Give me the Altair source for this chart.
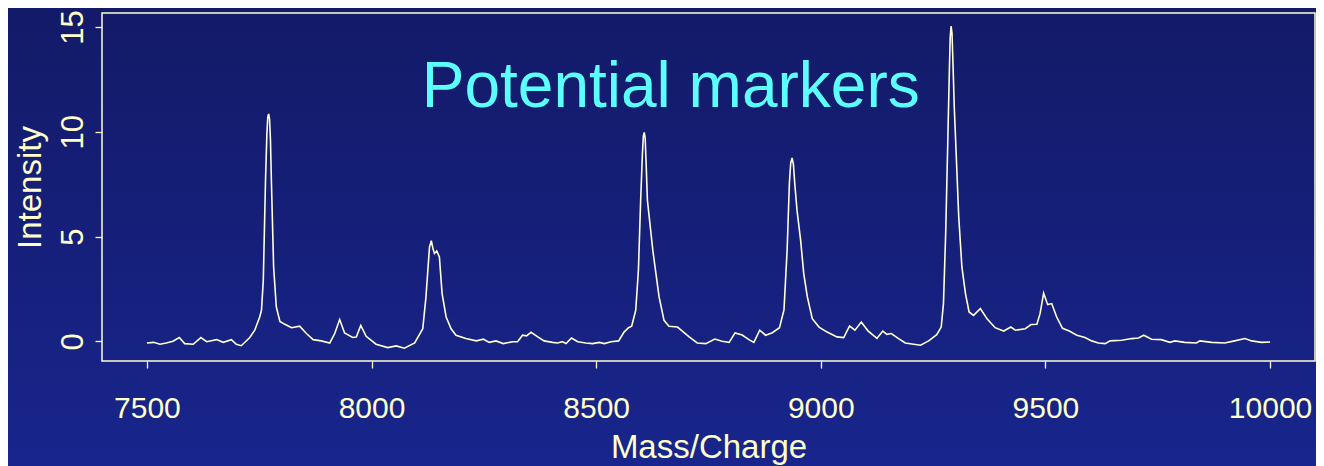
import altair as alt
import pandas as pd

# ---- data ----
mass = [7500, 7515, 7529, 7543, 7558, 7572, 7584, 7603, 7620, 7633, 7655, 7670, 7688, 7699, 7710,
        7729, 7740, 7751, 7755, 7759, 7764, 7767, 7769, 7771, 7773, 7775, 7777, 7782, 7788, 7796,
        7807, 7822, 7840, 7855, 7870, 7888, 7907, 7918, 7929, 7940, 7958, 7966, 7976, 7988, 8010,
        8036, 8055, 8073, 8096, 8114, 8121, 8126, 8129, 8133, 8137, 8140, 8145, 8151, 8157, 8166,
        8177, 8188, 8210, 8233, 8249, 8262, 8277, 8293, 8314, 8325, 8336, 8345, 8355, 8370, 8384,
        8403, 8414, 8425, 8433, 8445, 8459, 8477, 8492, 8507, 8518, 8533, 8550, 8562, 8572, 8579,
        8588, 8594, 8599, 8603, 8605, 8607, 8609, 8611, 8614, 8618, 8626, 8633, 8640, 8651, 8662,
        8681, 8707, 8725, 8744, 8764, 8780, 8796, 8809, 8825, 8840, 8851, 8864, 8877, 8892, 8908,
        8918, 8925, 8930, 8933, 8936, 8939, 8942, 8947, 8955, 8962, 8970, 8981, 8996, 9014, 9036,
        9051, 9064, 9076, 9090, 9105, 9125, 9138, 9147, 9157, 9173, 9188, 9207, 9222, 9240, 9258,
        9268, 9273, 9278, 9283, 9286, 9288, 9290, 9292, 9294, 9297, 9301, 9307, 9314, 9322, 9330,
        9340, 9355, 9370, 9388, 9407, 9423, 9433, 9455, 9468, 9481, 9488, 9496, 9505, 9514, 9525,
        9538, 9553, 9570, 9588, 9603, 9618, 9633, 9644, 9670, 9692, 9707, 9719, 9736, 9758, 9777,
        9788, 9810, 9836, 9844, 9870, 9899, 9921, 9944, 9959, 9981, 10000]
intensity = [-0.08, -0.05, -0.14, -0.08, 0.00, 0.18, -0.11, -0.14, 0.18, -0.02, 0.08, -0.05, 0.08, -0.14, -0.21,
             0.18, 0.53, 1.16, 1.48, 2.90, 7.70, 9.90, 10.70, 10.85, 10.60, 9.60, 7.70, 3.55, 1.64, 0.95,
             0.81, 0.65, 0.72, 0.37, 0.08, 0.02, -0.08, 0.37, 1.04, 0.40, 0.18, 0.20, 0.76, 0.24, -0.14,
             -0.30, -0.22, -0.33, -0.08, 0.60, 2.10, 3.60, 4.50, 4.80, 4.40, 4.19, 4.31, 4.03, 2.28, 1.16,
             0.60, 0.29, 0.13, 0.02, 0.10, -0.05, 0.02, -0.11, -0.02, -0.02, 0.29, 0.26, 0.43, 0.21, 0.02,
             -0.05, -0.08, -0.02, -0.11, 0.16, -0.02, -0.08, -0.11, -0.05, -0.11, -0.02, 0.02, 0.44, 0.65, 0.72,
             1.48, 3.40, 6.74, 9.00, 9.80, 9.97, 9.70, 8.60, 6.74, 5.94, 4.35, 3.23, 2.12, 1.00, 0.72,
             0.68, 0.21, -0.08, -0.11, 0.11, 0.00, -0.05, 0.40, 0.30, 0.08, -0.05, 0.53, 0.29, 0.41, 0.65,
             1.50, 4.35, 7.53, 8.50, 8.75, 8.45, 7.53, 6.26, 4.83, 3.23, 2.12, 1.08, 0.68, 0.44, 0.21,
             0.18, 0.73, 0.53, 0.92, 0.50, 0.14, 0.49, 0.33, 0.37, 0.13, -0.08, -0.14, -0.19, 0.02, 0.32,
             0.68, 1.80, 5.20, 9.90, 12.80, 14.50, 15.05, 14.70, 13.40, 11.20, 9.10, 5.94, 3.55, 2.28, 1.40,
             1.24, 1.56, 1.08, 0.65, 0.49, 0.68, 0.53, 0.60, 0.80, 0.81, 1.32, 2.30, 1.75, 1.80, 1.16,
             0.62, 0.49, 0.29, 0.18, 0.02, -0.08, -0.11, 0.02, 0.05, 0.13, 0.16, 0.29, 0.10, 0.08, -0.05,
             0.02, -0.05, -0.08, 0.02, -0.05, -0.08, 0.02, 0.13, 0.02, -0.05, -0.03]
x_ticks = [7500, 8000, 8500, 9000, 9500, 10000]
y_ticks = [0, 5, 10, 15]
title_text = ["Potential markers"]
title_mass = [8666]
title_intensity = [11.17]

W, H = 1213, 348
CREAM = "#FFFFCC"
FONT = "Liberation Sans"

df = pd.DataFrame({"mass": mass, "intensity": intensity})
tdf = pd.DataFrame({"label": title_text, "mass": title_mass, "intensity": title_intensity})

xscale = alt.Scale(domain=[7400, 10100], nice=False, zero=False)
yscale = alt.Scale(domain=[-0.94, 15.67], nice=False, zero=False)

grad = alt.LinearGradient(
    gradient="linear",
    stops=[alt.GradientStop(color="#131a68", offset=0),
           alt.GradientStop(color="#18258c", offset=1)],
    x1=0, x2=0, y1=0, y2=1,
)

bg = alt.Chart(pd.DataFrame({"k": [0]})).mark_rect(clip=False, color=grad).encode(
    x=alt.value(-94), x2=alt.value(W + 1), y=alt.value(-5), y2=alt.value(H + 105)
)

frame = alt.Chart(pd.DataFrame({"k": [0]})).mark_rect(
    filled=False, color=CREAM, strokeWidth=1.5, clip=False
).encode(x=alt.value(0), x2=alt.value(W), y=alt.value(0), y2=alt.value(H))

line = alt.Chart(df).mark_line(color="#FFFFD8", strokeWidth=1.6, clip=True).encode(
    x=alt.X("mass:Q", scale=xscale,
            axis=alt.Axis(values=x_ticks, title="Mass/Charge", grid=False, domain=False,
                          tickColor=CREAM, tickSize=7, tickWidth=1.3, labelColor=CREAM,
                          labelFont=FONT, labelFontSize=30, labelPadding=25,
                          labelFlush=False, labelOverlap=False, format="d",
                          titleColor=CREAM, titleFont=FONT, titleFontSize=33,
                          titleFontWeight="normal", titleBaseline="alphabetic",
                          titleY=96, zindex=2)),
    y=alt.Y("intensity:Q", scale=yscale,
            axis=alt.Axis(values=y_ticks, title="Intensity", grid=False, domain=False,
                          tickColor=CREAM, tickSize=7, tickWidth=1.3, labelColor=CREAM,
                          labelFont=FONT, labelFontSize=31, labelPadding=13,
                          labelAngle=270, labelAlign="center", labelBaseline="alphabetic",
                          labelFlush=False, labelOverlap=False,
                          titleColor=CREAM, titleFont=FONT, titleFontSize=33,
                          titleFontWeight="normal", titleAngle=270, titleAlign="center",
                          titleBaseline="alphabetic", titleX=-62, titleY=H / 2, zindex=2)),
)

title = alt.Chart(tdf).mark_text(
    font=FONT, fontSize=64, color="#5CFFFF", align="center", baseline="alphabetic"
).encode(
    x=alt.X("mass:Q", scale=xscale),
    y=alt.Y("intensity:Q", scale=yscale),
    text="label:N",
)

chart = alt.layer(bg, line, title, frame).properties(
    width=W, height=H,
    autosize=alt.AutoSizeParams(type="none"),
    padding={"left": 94, "top": 5, "right": 1, "bottom": 105},
    background="#161f7c",
).configure_view(strokeWidth=0)

chart.save("out.html", embed_options={"renderer": "svg", "actions": False})
